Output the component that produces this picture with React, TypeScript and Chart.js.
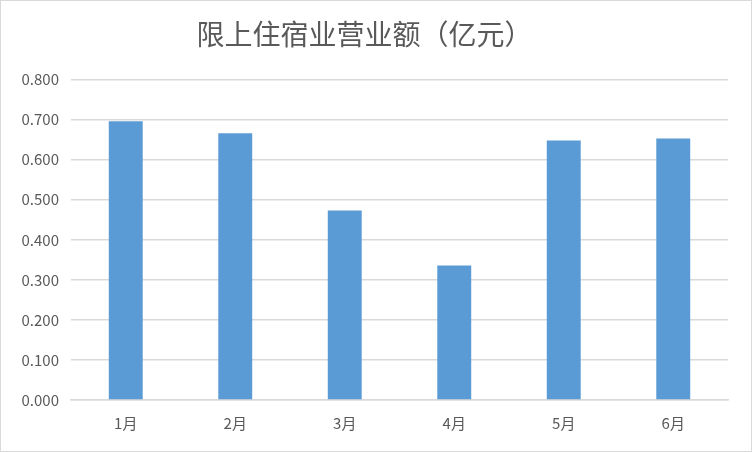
import { useEffect, useRef } from 'react';
import { Chart, registerables } from 'chart.js';

Chart.register(...registerables);

const months = ['1月', '2月', '3月', '4月', '5月', '6月'];
const revenue = [0.696, 0.666, 0.473, 0.336, 0.648, 0.653];
const chartTitle = '限上住宿业营业额（亿元）';

const FONT = '"Noto Sans CJK SC", "Noto Sans", sans-serif';

export default function App() {
  const canvasRef = useRef<HTMLCanvasElement>(null);
  const chartRef = useRef<any>(null);

  useEffect(() => {
    document.body.style.margin = '0';
    if (!canvasRef.current) return;
    if (chartRef.current) chartRef.current.destroy();
    const ctx = canvasRef.current.getContext('2d');
    if (!ctx) return;

    chartRef.current = new Chart(ctx, {
      type: 'bar',
      data: {
        labels: months,
        datasets: [{
          label: chartTitle,
          data: revenue,
          backgroundColor: '#5b9bd5',
          borderWidth: 0,
          categoryPercentage: 1,
          barPercentage: 0.31,
        }],
      },
      options: {
        responsive: false,
        animation: false,
        layout: { padding: { left: 0, right: 23, top: 0, bottom: 0 } },
        plugins: {
          legend: { display: false },
          tooltip: { enabled: false },
          title: {
            display: true,
            text: chartTitle,
            color: '#595959',
            font: { family: FONT, size: 28, weight: 'normal' },
            padding: { top: 17, bottom: 28 },
          },
        },
        scales: {
          y: {
            min: 0,
            max: 0.8,
            ticks: {
              stepSize: 0.1,
              color: '#595959',
              font: { family: FONT, size: 15 },
              padding: 12,
              callback: (v: any) => Number(v).toFixed(3),
            },
            grid: { color: '#d9d9d9', lineWidth: 1.5, drawTicks: false },
            border: { display: false },
            afterFit: (s: any) => { s.width = 70; },
          },
          x: {
            ticks: {
              color: '#595959',
              font: { family: FONT, size: 15 },
              padding: 14,
            },
            grid: { display: false, drawTicks: false },
            border: { display: true, color: '#d9d9d9', width: 1.5 },
            afterFit: (s: any) => { s.height = 51; },
          },
        },
      },
    });

    return () => {
      if (chartRef.current) chartRef.current.destroy();
    };
  }, []);

  return (
    <div style={{ width: 752, height: 452, boxSizing: 'border-box', border: '1px solid #d9d9d9', background: '#fff' }}>
      <canvas ref={canvasRef} width={750} height={450}></canvas>
    </div>
  );
}
